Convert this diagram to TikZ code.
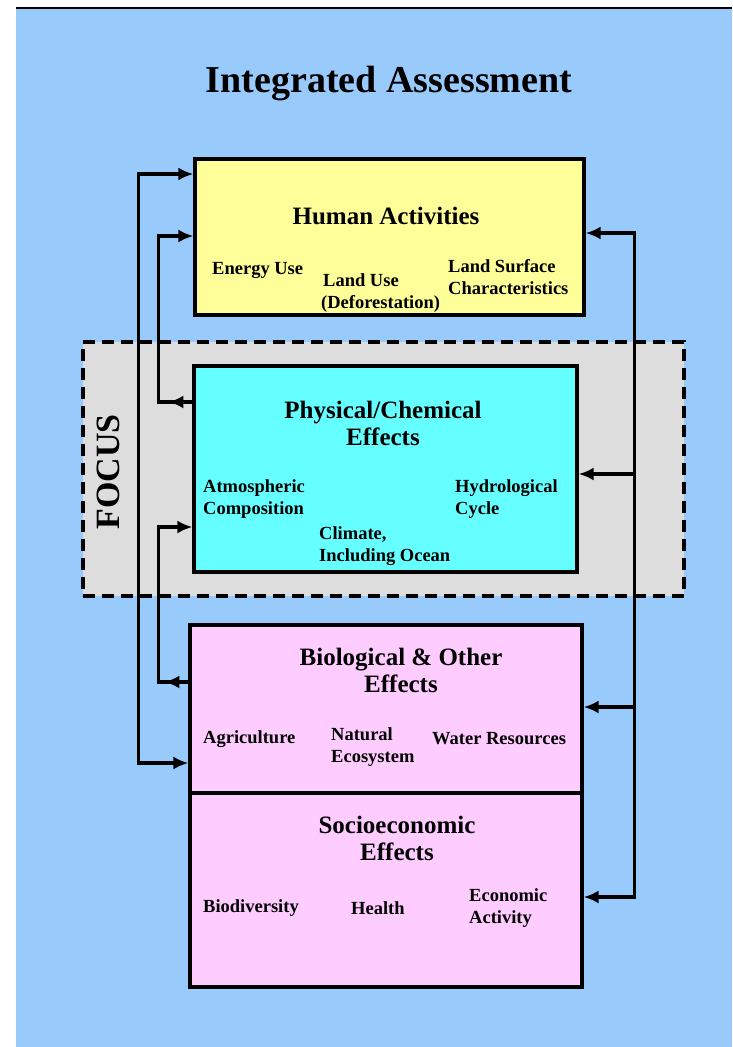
\documentclass[tikz,border=0pt]{standalone}
\usepackage{fontspec}
\setmainfont{Liberation Serif}
\usepackage{tikz}
\usetikzlibrary{arrows.meta,decorations.markings}

\definecolor{skyblue}{RGB}{153,202,252}
\definecolor{paleyellow}{RGB}{255,255,153}
\definecolor{brightcyan}{RGB}{102,255,255}
\definecolor{palepink}{RGB}{255,204,255}
\definecolor{focusgrey}{RGB}{221,221,221}

\begin{document}
\begin{tikzpicture}[x=1pt,y=-1pt,>={Latex[length=15pt,width=13pt]}]
    \tikzstyle{box} = [draw,line width=3.2pt,inner sep=0pt]
    \tikzstyle{head} = [font=\fontsize{25}{27}\selectfont\bfseries,align=center,inner sep=0pt]
    \tikzstyle{item} = [font=\fontsize{18.5}{21.5}\selectfont\bfseries,align=left,anchor=west,inner sep=0pt]
    \tikzstyle{link} = [line width=3.2pt]
    \tikzstyle{backtip} = [postaction={decorate,decoration={markings,mark=at position 24pt with {\arrow{>}}}}]
        \useasboundingbox (0,0) rectangle (732,1047);
        \fill[white] (0,0) rectangle (732,1047);
        \fill[skyblue] (16,8) rectangle (732,1047);
        \draw[line width=1.5pt] (16,8) -- (732,8);
        \node[font=\fontsize{38}{40}\selectfont\bfseries] (title) at (389,84) {Integrated Assessment};
        % focus region
        \node[draw,dashed,dash pattern=on 12pt off 7pt,line width=3.2pt,fill=focusgrey,
              minimum width=601pt,minimum height=254pt] (focus) at (383.5,469) {};
        \node[rotate=90,font=\fontsize{34}{34}\selectfont\bfseries] (focuslbl) at (108,472) {FOCUS};
        % boxes
        \node[box,fill=paleyellow,minimum width=389pt,minimum height=156pt] (human) at (389.5,237) {};
        \node[box,fill=brightcyan,minimum width=383pt,minimum height=206pt] (phys) at (385.5,469) {};
        \node[box,fill=palepink,minimum width=392pt,minimum height=168pt] (bio) at (386,709) {};
        \node[box,fill=palepink,minimum width=392pt,minimum height=194pt] (socio) at (386,890) {};
        % texts
        \node[head] (humanlbl) at (386,216) {Human Activities};
        \node[item] (energy) at (212,270) {Energy Use};
        \node[item] (landuse) at (321,293) {\hspace{2pt}Land Use\\(Deforestation)};
        \node[item] (surface) at (448,277) {Land Surface\\Characteristics};
        \node[head] (physlbl) at (383,423) {Physical/Chemical\\Effects};
        \node[item] (atmos) at (203,499) {Atmospheric\\Composition};
        \node[item] (hydro) at (455,499) {Hydrological\\Cycle};
        \node[item] (climate) at (319,546) {Climate,\\Including Ocean};
        \node[head] (biolbl) at (401,670) {Biological \& Other\\Effects};
        \node[item] (agri) at (203,739) {Agriculture};
        \node[item] (natural) at (331,747) {Natural\\Ecosystem};
        \node[item] (water) at (432,739) {Water Resources};
        \node[head] (sociolbl) at (397,838) {Socioeconomic\\Effects};
        \node[item] (biodiv) at (203,908) {Biodiversity};
        \node[item] (health) at (351,908) {Health};
        \node[item] (econ) at (469,908) {Economic\\Activity};
        % feedback lines
        \draw[link,<->] (human.west |- 0,174) -- ++(-55,0) |- (bio.west |- 0,763);
        \draw[link,->,backtip] (phys.west |- 0,402) -- ++(-34,0) |- (human.west |- 0,236);
        \draw[link,->,backtip] (bio.west |- 0,682) -- ++(-30,0) |- (phys.west |- 0,527);
        \draw[link,<->] (human.east |- 0,233) -- ++(49,0) |- (socio.east |- 0,897);
        \coordinate (jphys) at (633,474);
        \coordinate (jbio) at (633,707);
        \draw[link,->] (jphys) -- (phys.east |- jphys);
        \draw[link,->] (jbio) -- (bio.east |- jbio);
    \end{tikzpicture}
\end{document}
